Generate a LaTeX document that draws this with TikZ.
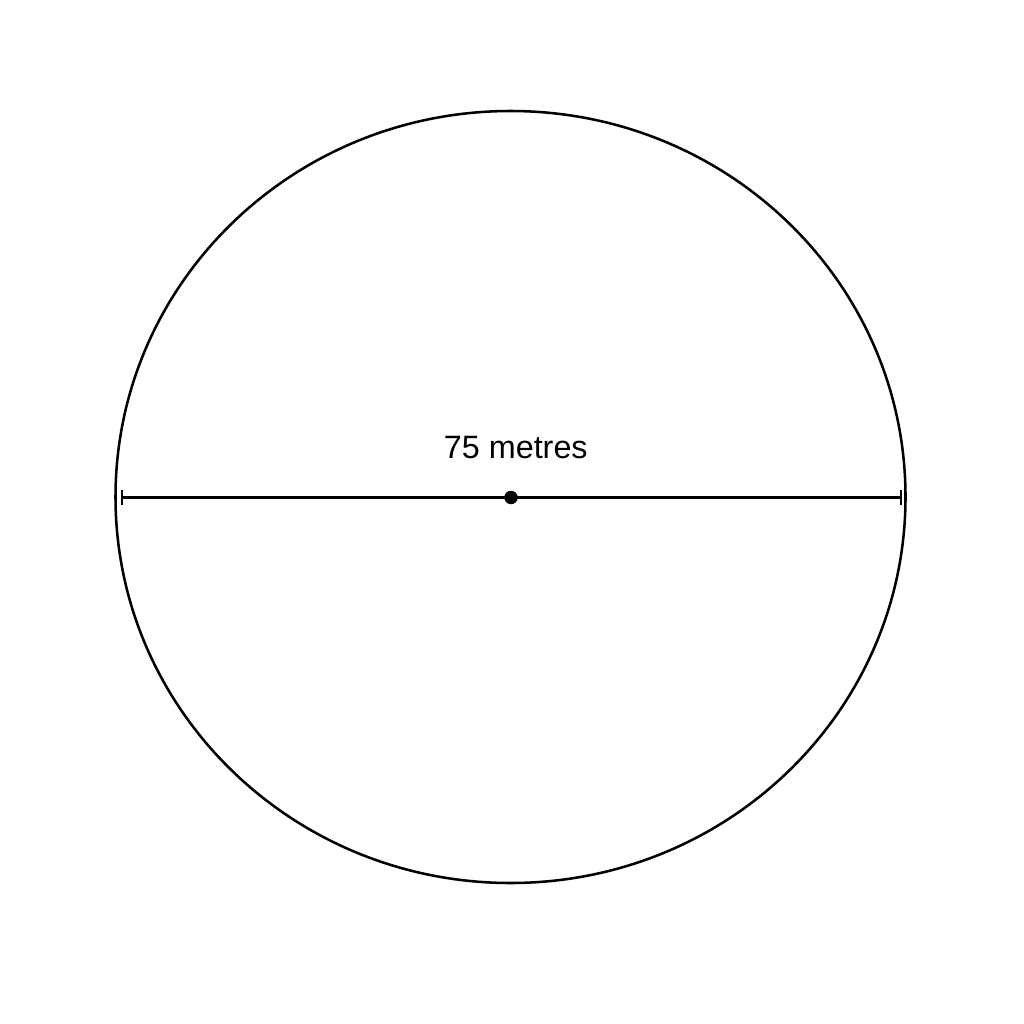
\documentclass[tikz,border=0pt]{standalone}
\usepackage{fontspec}
\setmainfont{Liberation Sans}
\usetikzlibrary{positioning}

\begin{document}
\begin{tikzpicture}[x=0.025cm, y=-0.025cm,
    rim/.style={draw=black, line width=1.8pt},
    centre/.style={circle, fill=black, inner sep=0pt, minimum size=0.33cm},
    span/.style={line width=1.7pt, |-|}]
  \useasboundingbox (0,0) rectangle (1024,1024);
  % Define nodes
  \node[centre]                           (mid) at (511,497.5) {};
  \node[above=1.25cm of mid.center, anchor=center, xshift=0.12cm, font=\fontsize{23}{26}\selectfont] (len) {75 metres};
  \coordinate (west) at (121,497.5);
  \coordinate (east) at (902,497.5);
  % Draw the circle
  \draw[rim] (510.5,497) ellipse [x radius=395, y radius=386];
  % Connect the nodes
  \draw[span] (west) -- (east);
  \node[centre] at (mid) {};
\end{tikzpicture}
\end{document}
